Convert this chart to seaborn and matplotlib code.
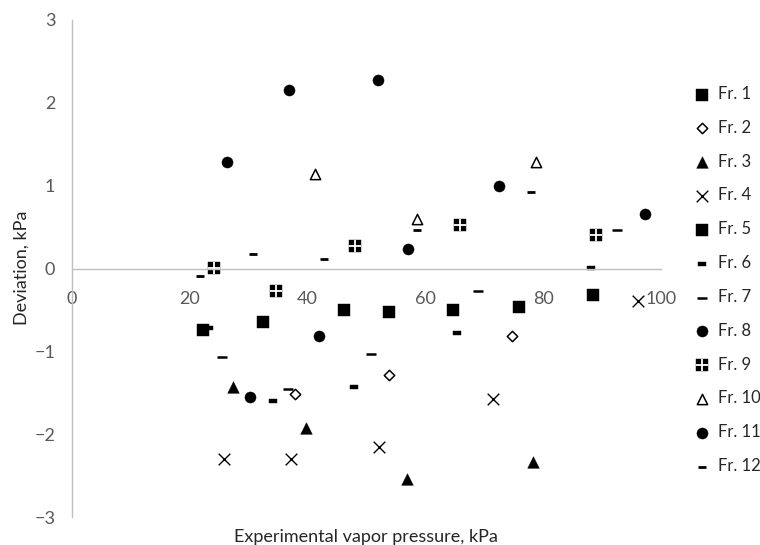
import matplotlib
matplotlib.use("Agg")
import matplotlib.pyplot as plt
import seaborn as sns
import numpy as np

# deviation (kPa) vs experimental vapor pressure (kPa), per fraction
fr1_x = [32.4, 53.8, 75.9]
fr1_y = [-0.65, -0.53, -0.47]
fr2_x = [37.8, 53.8, 74.7]
fr2_y = [-1.52, -1.28, -0.82]
fr3_x = [27.3, 39.8, 56.8, 78.2]
fr3_y = [-1.43, -1.92, -2.54, -2.33]
fr4_x = [25.8, 37.1, 52.1, 71.5, 96.1]
fr4_y = [-2.30, -2.30, -2.16, -1.58, -0.39]
fr5_x = [22.2, 46.1, 64.7, 88.5]
fr5_y = [-0.74, -0.50, -0.50, -0.32]
fr6_x = [23.2, 34.2, 47.8, 65.4, 88.1]
fr6_y = [-0.72, -1.60, -1.43, -0.78, 0.01]
fr7_x = [25.4, 36.6, 50.8, 69.0, 92.5]
fr7_y = [-1.07, -1.45, -1.03, -0.27, 0.46]
fr8_x = [26.4, 36.9, 51.9]
fr8_y = [1.28, 2.15, 2.28]
fr9_x = [24.1, 34.6, 48.0, 65.8, 89.0]
fr9_y = [0.01, -0.27, 0.27, 0.52, 0.41]
fr10_x = [41.2, 58.5, 78.8]
fr10_y = [1.14, 0.60, 1.29]
fr11_x = [30.2, 41.9, 57.1, 72.5, 97.3]
fr11_y = [-1.55, -0.81, 0.24, 0.99, 0.66]
fr12_x = [21.7, 30.7, 42.7, 58.5, 78.0]
fr12_y = [-0.09, 0.18, 0.12, 0.46, 0.92]

x_ticks = [0, 20, 40, 60, 80, 100]
y_ticks = [-3, -2, -1, 0, 1, 2, 3]

sns.set_theme(style="white")
plt.rcParams["font.family"] = ["Lato", "DejaVu Sans"]

GREY = "#bfbfbf"
TXT = "#595959"
K = "black"

pill = [(-1, -0.55), (1, -0.55), (1, 0.55), (-1, 0.55), (-1, -0.55)]

fig = plt.figure(figsize=(7.6, 5.45), dpi=100)
ax = fig.add_axes([72 / 760, 1 - 517 / 545, (661 - 72) / 760, (517 - 20) / 545])

sns.scatterplot(x=fr1_x, y=fr1_y, marker="s", s=66, color=K, edgecolor=K, linewidth=0.3, ax=ax, label="Fr. 1")
sns.scatterplot(x=fr2_x, y=fr2_y, marker="D", s=28, color="white", edgecolor=K, linewidth=1.1, ax=ax, label="Fr. 2")
sns.scatterplot(x=fr3_x, y=fr3_y, marker="^", s=70, color=K, edgecolor=K, linewidth=0.3, ax=ax, label="Fr. 3")
sns.scatterplot(x=fr4_x, y=fr4_y, marker="x", s=70, color=K, linewidth=1.0, ax=ax, label="Fr. 4")
sns.scatterplot(x=fr5_x, y=fr5_y, marker="s", s=74, color=K, edgecolor=K, linewidth=0.3, ax=ax, label="Fr. 5")
sns.scatterplot(x=fr6_x, y=fr6_y, marker=pill, s=40, color=K, edgecolor=K, linewidth=0.3, ax=ax, label="Fr. 6")
sns.scatterplot(x=fr7_x, y=fr7_y, marker="_", s=60, color=K, linewidth=1.8, ax=ax, label="Fr. 7")
sns.scatterplot(x=fr8_x, y=fr8_y, marker="o", s=64, color=K, edgecolor=K, linewidth=0.3, ax=ax, label="Fr. 8")
sns.scatterplot(x=fr9_x, y=fr9_y, marker="s", s=68, color=K, edgecolor=K, linewidth=0.3, ax=ax, label="Fr. 9")
sns.scatterplot(x=fr9_x, y=fr9_y, marker="+", s=68, color="white", linewidth=1.3, ax=ax)
sns.scatterplot(x=fr10_x, y=fr10_y, marker="^", s=55, color="white", edgecolor=K, linewidth=1.1, ax=ax, label="Fr. 10")
sns.scatterplot(x=fr11_x, y=fr11_y, marker="o", s=64, color=K, edgecolor=K, linewidth=0.3, ax=ax, label="Fr. 11")
sns.scatterplot(x=fr12_x, y=fr12_y, marker="_", s=28, color=K, linewidth=2.0, ax=ax, label="Fr. 12")

ax.set_xlim(0, 100)
ax.set_ylim(-3, 3)
ax.set_xticks(x_ticks)
ax.set_yticks(y_ticks)
ax.spines["bottom"].set_position(("data", 0))
for side in ("top", "right"):
    ax.spines[side].set_visible(False)
for side in ("left", "bottom"):
    ax.spines[side].set_color(GREY)
    ax.spines[side].set_linewidth(1.0)
ax.tick_params(axis="x", length=0, pad=16, labelsize=13, labelcolor=TXT)
ax.tick_params(axis="y", length=0, pad=12, labelsize=13, labelcolor=TXT)
ax.grid(False)

fig.text(366 / 760, 1 - 537 / 545, "Experimental vapor pressure, kPa", ha="center", va="center",
         fontsize=13, color="#262626")
fig.text(22 / 760, 1 - 268 / 545, "Deviation, kPa", ha="center", va="center", rotation=90,
         fontsize=13, color="#262626")

handles, labels = ax.get_legend_handles_labels()
plus = ax.collections[9]
i9 = labels.index("Fr. 9")
handles[i9] = (handles[i9], plus)
ax.get_legend().remove()
fig.legend(handles, labels, loc="center left", bbox_to_anchor=(685 / 760, 1 - 280 / 545),
           frameon=False, fontsize=12, handlelength=1.0, handletextpad=0.45,
           labelspacing=1.07, borderpad=0, scatterpoints=1, labelcolor="#262626")

fig.savefig("out.png", dpi=100)
